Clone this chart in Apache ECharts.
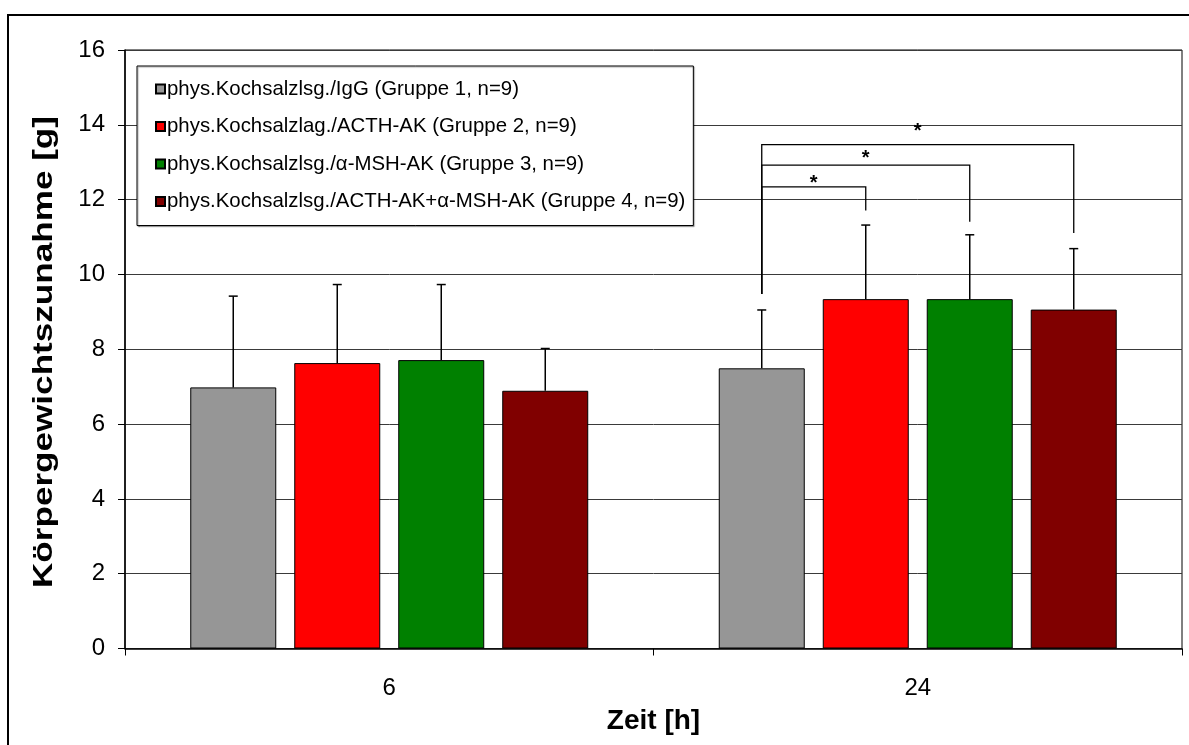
<!DOCTYPE html>
<html>
<head>
<meta charset="utf-8">
<script src="https://cdn.jsdelivr.net/npm/echarts@6/dist/echarts.min.js"></script>
<style>
  html, body { margin: 0; padding: 0; background: #fff; }
  #chart { width: 1189px; height: 745px; }
</style>
</head>
<body>
<div id="chart"></div>
<script>
// Zeitpunkte (h)
const categories = ['6', '24'];

// Gruppen
const groupNames = [
  'phys.Kochsalzlsg./IgG (Gruppe 1, n=9)',
  'phys.Kochsalzlag./ACTH-AK (Gruppe 2, n=9)',
  'phys.Kochsalzlsg./\u03B1-MSH-AK (Gruppe 3, n=9)',
  'phys.Kochsalzlsg./ACTH-AK+\u03B1-MSH-AK (Gruppe 4, n=9)'
];
const groupColors = ['#969696', '#ff0000', '#008000', '#800000'];

// Mittelwerte der Körpergewichtszunahme [g]
const mean1 = [6.98, 7.49];
const mean2 = [7.63, 9.34];
const mean3 = [7.71, 9.34];
const mean4 = [6.89, 9.06];

// Standardabweichungen (nur nach oben gezeichnet)
const sd1 = [2.44, 1.56];
const sd2 = [2.10, 1.98];
const sd3 = [2.02, 1.72];
const sd4 = [1.13, 1.63];

// y-Achse
const yTicks = [0, 2, 4, 6, 8, 10, 12, 14, 16];
const yTitle = 'Körpergewichtszunahme [g]';
const xTitle = 'Zeit [h]';

// Signifikanzklammern bei 24 h: [Kategorie, von Gruppe, bis Gruppe,
//   Höhe der Klammer, Fuß links, Fuß rechts, Höhe des Sterns]
const brackets = [
  [1, 0, 1, 12.34, 9.48, 11.71, 12.44],
  [1, 0, 2, 12.92, 9.48, 11.41, 13.11],
  [1, 0, 3, 13.47, 9.48, 11.11, 13.81]
];

const means = [mean1, mean2, mean3, mean4];
const sds = [sd1, sd2, sd3, sd4];

const BAR_W = 86;
const BAR_GAP = 18;
const PITCH = BAR_W + BAR_GAP;
function barOffset(i) { return (i - (groupNames.length - 1) / 2) * PITCH; }

const FONT = 'Liberation Sans, Arial, sans-serif';

const barSeries = groupNames.map((name, i) => ({
  name: name,
  type: 'bar',
  barWidth: BAR_W,
  barGap: (BAR_GAP / BAR_W * 100).toFixed(2) + '%',
  itemStyle: { color: groupColors[i], borderColor: '#000', borderWidth: 1 },
  z: 2,
  data: means[i]
}));

const errorSeries = groupNames.map((name, i) => ({
  type: 'custom',
  z: 3,
  silent: true,
  encode: { x: 0, y: 1 },
  data: categories.map((c, k) => [k, means[i][k], sds[i][k]]),
  renderItem: function (params, api) {
    const ci = api.value(0);
    const m = api.value(1);
    const s = api.value(2);
    const p0 = api.coord([ci, m]);
    const p1 = api.coord([ci, m + s]);
    const x = p0[0] + barOffset(i);
    const style = { stroke: '#000', lineWidth: 1.5 };
    return {
      type: 'group',
      children: [
        { type: 'line', shape: { x1: x, y1: p0[1], x2: x, y2: p1[1] }, style: style },
        { type: 'line', shape: { x1: x - 4.5, y1: p1[1], x2: x + 4.5, y2: p1[1] }, style: style }
      ]
    };
  }
}));

const bracketSeries = {
  type: 'custom',
  z: 4,
  silent: true,
  encode: { x: 0, y: 3 },
  data: brackets,
  renderItem: function (params, api) {
    const ci = api.value(0);
    const a = api.value(1);
    const b = api.value(2);
    const top = api.coord([ci, api.value(3)]);
    const lb = api.coord([ci, api.value(4)]);
    const rb = api.coord([ci, api.value(5)]);
    const st = api.coord([ci, api.value(6)]);
    const xa = top[0] + barOffset(a);
    const xb = top[0] + barOffset(b);
    return {
      type: 'group',
      children: [
        {
          type: 'polyline',
          shape: { points: [[xa, lb[1]], [xa, top[1]], [xb, top[1]], [xb, rb[1]]] },
          style: { stroke: '#000', lineWidth: 1.3, fill: null }
        },
        {
          type: 'text',
          style: {
            text: '*', x: (xa + xb) / 2, y: st[1],
            align: 'center', verticalAlign: 'middle',
            font: 'bold 20px ' + FONT, fill: '#000'
          }
        }
      ]
    };
  }
};

const chart = echarts.init(document.getElementById('chart'), null, { renderer: 'canvas' });
chart.setOption({
  animation: false,
  backgroundColor: '#fff',
  graphic: [
    {
      type: 'rect',
      shape: { x: 8, y: 15, width: 1300, height: 900 },
      style: { fill: null, stroke: '#000', lineWidth: 2 },
      silent: true, z: -10
    },
    {
      // y-Achsentitel, gedreht und in Schreibrichtung gestreckt
      type: 'text',
      x: 45, y: 352,
      rotation: Math.PI / 2,
      scaleX: 1.3,
      silent: true,
      style: {
        text: yTitle, x: 0, y: 0,
        align: 'center', verticalAlign: 'middle',
        font: 'bold 27px ' + FONT, fill: '#000'
      }
    }
  ],
  grid: {
    left: 125, right: 7, top: 50, bottom: 96.5,
    show: true, borderColor: '#000', borderWidth: 1, backgroundColor: 'transparent'
  },
  legend: {
    orient: 'vertical',
    left: 137, top: 66,
    padding: [13, 8, 14, 18],
    itemGap: 17.5,
    itemWidth: 9, itemHeight: 9,
    icon: 'rect',
    backgroundColor: '#fff',
    borderColor: '#000', borderWidth: 1,
    shadowColor: 'rgba(0,0,0,0.35)', shadowOffsetX: 1, shadowOffsetY: 1, shadowBlur: 1,
    textStyle: { fontFamily: FONT, fontSize: 20.4, color: '#000', lineHeight: 20, padding: [0, 0, 0, -3] },
    data: groupNames
  },
  xAxis: {
    type: 'category',
    data: categories,
    name: xTitle,
    nameLocation: 'middle',
    nameGap: 59,
    nameTextStyle: { fontFamily: FONT, fontSize: 28, fontWeight: 'bold', color: '#000' },
    axisLine: { lineStyle: { color: '#000', width: 1.5 } },
    axisTick: { show: true, length: 7, lineStyle: { color: '#000' } },
    axisLabel: { fontFamily: FONT, fontSize: 24, color: '#000', margin: 28 },
    splitLine: { show: false }
  },
  yAxis: {
    type: 'value',
    min: yTicks[0],
    max: yTicks[yTicks.length - 1],
    interval: yTicks[1] - yTicks[0],
    axisLine: { show: true, lineStyle: { color: '#000', width: 1.5 } },
    axisTick: { show: true, length: 7, lineStyle: { color: '#000' } },
    axisLabel: { fontFamily: FONT, fontSize: 24, color: '#000', margin: 20 },
    splitLine: { show: true, lineStyle: { color: '#3a3a3a', width: 1 } }
  },
  series: barSeries.concat(errorSeries, [bracketSeries])
});
</script>
</body>
</html>
